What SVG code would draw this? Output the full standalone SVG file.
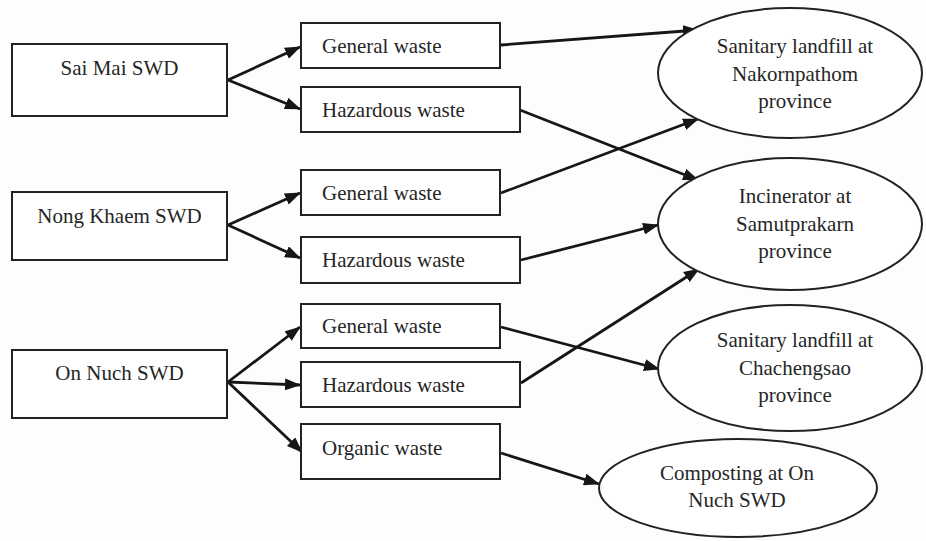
<svg xmlns="http://www.w3.org/2000/svg" width="926" height="541" viewBox="0 0 926 541">
<defs>
<marker id="ah" viewBox="0 0 16 12" refX="15" refY="6" markerWidth="16" markerHeight="12" markerUnits="userSpaceOnUse" orient="auto">
<path d="M0,0 L16,6 L0,12 Z" fill="#161616"/>
</marker>
<style>
.box{fill:#fff;stroke:#222;stroke-width:2}
.ell{fill:#fff;stroke:#222;stroke-width:2}
.t{font-family:"Liberation Serif","Times New Roman",serif;font-size:21px;fill:#262626}
.c{text-anchor:middle}
.ln{stroke:#161616;stroke-width:2.8;fill:none;marker-end:url(#ah)}
</style>
</defs>
<rect width="926" height="541" fill="#fdfdfd"/>
<g id="connectors">
<line class="ln" x1="228" y1="80" x2="300" y2="47"/>
<line class="ln" x1="228" y1="80" x2="300" y2="109"/>
<line class="ln" x1="228" y1="225" x2="300" y2="193"/>
<line class="ln" x1="228" y1="225" x2="300" y2="258"/>
<line class="ln" x1="228" y1="382" x2="300" y2="327"/>
<line class="ln" x1="228" y1="382" x2="300" y2="385"/>
<line class="ln" x1="228" y1="382" x2="302" y2="452"/>
<line class="ln" x1="501" y1="45" x2="698" y2="30"/>
<line class="ln" x1="520" y1="110" x2="698" y2="180"/>
<line class="ln" x1="501" y1="193" x2="698" y2="119"/>
<line class="ln" x1="521" y1="260" x2="658" y2="225"/>
<line class="ln" x1="521" y1="383" x2="699" y2="269"/>
<line class="ln" x1="501" y1="327" x2="659" y2="369"/>
<line class="ln" x1="501" y1="453" x2="599" y2="484"/>
</g>
<g id="sai-mai"><rect class="box" x="12" y="44" width="215" height="72"/><text class="t c" x="119.5" y="75">Sai Mai SWD</text></g>
<g id="nong-khaem"><rect class="box" x="12" y="192" width="215" height="68"/><text class="t c" x="119.5" y="223">Nong Khaem SWD</text></g>
<g id="on-nuch"><rect class="box" x="12" y="350" width="215" height="68"/><text class="t c" x="119.5" y="380">On Nuch SWD</text></g>
<g id="gw1"><rect class="box" x="301" y="23" width="199" height="45"/><text class="t" x="322" y="53">General waste</text></g>
<g id="hw1"><rect class="box" x="301" y="87" width="219" height="45"/><text class="t" x="322" y="117">Hazardous waste</text></g>
<g id="gw2"><rect class="box" x="301" y="170" width="199" height="45"/><text class="t" x="322" y="200">General waste</text></g>
<g id="hw2"><rect class="box" x="301" y="237" width="219" height="46"/><text class="t" x="322" y="267">Hazardous waste</text></g>
<g id="gw3"><rect class="box" x="301" y="304" width="199" height="44"/><text class="t" x="322" y="333">General waste</text></g>
<g id="hw3"><rect class="box" x="301" y="362" width="219" height="45"/><text class="t" x="322" y="392">Hazardous waste</text></g>
<g id="ow"><rect class="box" x="301" y="424" width="199" height="55"/><text class="t" x="322" y="455">Organic waste</text></g>
<g id="landfill-nakornpathom"><ellipse class="ell" cx="790" cy="73" rx="132" ry="65"/><text class="t c" x="795" y="53">Sanitary landfill at</text><text class="t c" x="795" y="81">Nakornpathom</text><text class="t c" x="795" y="108">province</text></g>
<g id="incinerator"><ellipse class="ell" cx="790" cy="224" rx="132" ry="66"/><text class="t c" x="795" y="203">Incinerator at</text><text class="t c" x="795" y="231">Samutprakarn</text><text class="t c" x="795" y="258">province</text></g>
<g id="landfill-chachengsao"><ellipse class="ell" cx="790" cy="368" rx="132" ry="63"/><text class="t c" x="795" y="347">Sanitary landfill at</text><text class="t c" x="795" y="375">Chachengsao</text><text class="t c" x="795" y="402">province</text></g>
<g id="composting"><ellipse class="ell" cx="738" cy="488" rx="139" ry="49"/><text class="t c" x="737" y="480">Composting at On</text><text class="t c" x="737" y="507">Nuch SWD</text></g>
</svg>
